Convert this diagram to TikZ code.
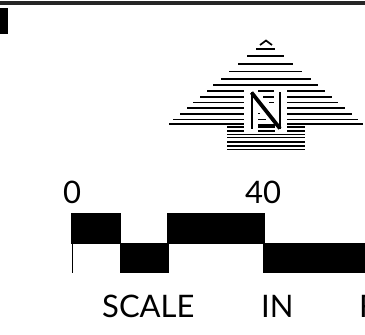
\documentclass[tikz,border=0pt]{standalone}
\usepackage{fontspec}
\setmainfont{Lato}
\tikzset{
  hatch/.style={line width=1.75pt,line cap=butt,black},
  nstem/.style={line width=2pt,black},
  ndiag/.style={line width=3.8pt,black},
  barfill/.style={fill=black,draw=none},
  label/.style={font=\fontsize{31}{31}\selectfont,inner sep=0pt,anchor=base west,text=black}
}
\begin{document}
\begin{tikzpicture}[x=1pt,y=-1pt]
\useasboundingbox (0,0) rectangle (365,335);
\clip (0,0) rectangle (365,335);
% top rule and corner block
\fill[black!85] (0,1.2) rectangle (365,4.6);
\fill[black] (0,8) rectangle (7.5,34);
% arrow: chevron
\draw[line width=1.7pt,line join=miter] (260,45) -- (266,40.5) -- (272,45);
% arrow head: full lines
\foreach \y/\a/\b in {49/256/275,56/247/284,63.7/238/293,71.6/229/302,79.2/221/311,85/213/318}
  \draw[hatch] (\a,\y) -- (\b,\y);
% arrow head: lines broken around the N
\foreach \y/\a/\b in {91/207/325,96.7/200/332,102.5/193/338,108/187/345,114/180/352,119.5/173/358,123.7/169/363}
  {\draw[hatch] (\a,\y) -- (244,\y); \draw[hatch] (287,\y) -- (\b,\y);}
% shaft: broken then full lines
\foreach \y in {127,131}
  {\draw[hatch] (227,\y) -- (244,\y); \draw[hatch] (258,\y) -- (275,\y); \draw[hatch] (287,\y) -- (305,\y);}
\foreach \y in {134.5,137.5,142,146,149.5}
  \draw[hatch] (227,\y) -- (305,\y);
% fragments inside the N
\foreach \y/\a/\b in {91/258/274,96.7/263/274,102.5/269/274,113.5/258/260,119.5/258/266,125/258/275}
  \draw[hatch] (\a,\y) -- (\b,\y);
% the N
\draw[nstem] (252,92) -- (252,129);
\draw[nstem] (280,92) -- (280,129);
\draw[ndiag] (251.5,92.5) -- (280,128.5);
% scale labels
\node[label] (zero) at (63,203) {0};
\node[label] (forty) at (245,203) {40};
\node[label] (scale) at (102,317) {SCALE};
\node[label] (in) at (261,317) {IN};
\node[label] (f) at (359,317) {F};
% scale bar
\fill[barfill] (71,213) rectangle (120.5,243.5);
\fill[barfill] (167,213) rectangle (265,243.5);
\fill[barfill] (119.5,242.5) rectangle (168.5,273);
\fill[barfill] (263,242.5) rectangle (365,273);
\draw[line width=1pt] (72,243) -- (72,273);
\draw[line width=0.8pt] (71,243.5) -- (120,243.5);
\draw[line width=0.8pt] (168,243.5) -- (264,243.5);
\end{tikzpicture}
\end{document}
